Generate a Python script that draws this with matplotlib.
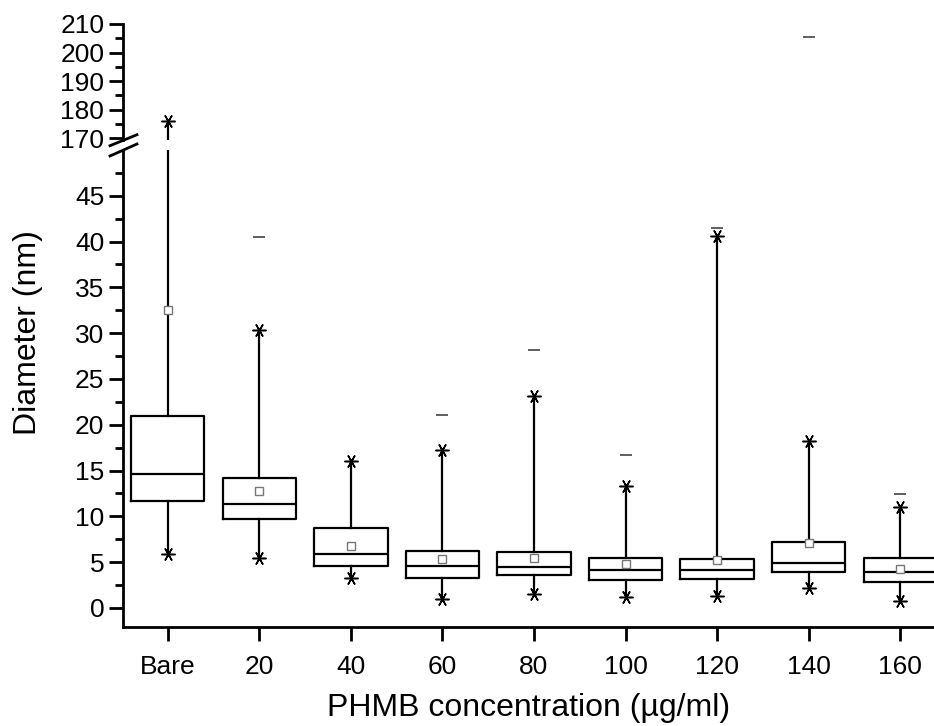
import numpy as np
import matplotlib
matplotlib.use("Agg")
import matplotlib.pyplot as plt
from matplotlib.lines import Line2D

plt.rcParams['font.family'] = ['Liberation Sans', 'DejaVu Sans']

# values (nm)
cats = ['Bare', '20', '40', '60', '80', '100', '120', '140', '160']
q1 = [11.7, 9.7, 4.55, 3.25, 3.6, 3.0, 3.2, 3.9, 2.8]
med = [14.6, 11.4, 5.9, 4.6, 4.5, 4.1, 4.1, 4.9, 3.9]
q3 = [21.0, 14.2, 8.7, 6.25, 6.15, 5.4, 5.3, 7.2, 5.5]
means = [32.5, 12.8, 6.8, 5.35, 5.45, 4.8, 5.2, 7.1, 4.3]
p1 = [5.9, 5.4, 3.25, 0.95, 1.5, 1.2, 1.35, 2.2, 0.8]
p99 = [176.0, 30.3, 16.0, 17.2, 23.1, 13.3, 40.6, 18.2, 11.0]
maxv = [np.nan, 40.5, np.nan, 21.1, 28.2, 16.7, 41.5, 205.3, 12.4]

W, H = 934, 726
fig = plt.figure(figsize=(W / 100, H / 100), dpi=100)

# axes placed in pixel units of the reference
ax_lo = fig.add_axes([123 / W, (H - 627) / H, (W - 123) / W, (627 - 150) / H])
ax_hi = fig.add_axes([123 / W, (H - 140) / H, (W - 123) / W, (140 - 24) / H])

pos = np.arange(len(cats))
stats = []
for i in range(len(cats)):
    stats.append(dict(med=med[i], q1=q1[i], q3=q3[i], whislo=p1[i],
                      whishi=p99[i], mean=means[i], fliers=[]))


def draw(ax):
    ax.bxp(stats, positions=pos, widths=0.8, showcaps=False, showmeans=True,
           showfliers=False,
           boxprops=dict(color='black', linewidth=1.6),
           medianprops=dict(color='black', linewidth=1.6),
           whiskerprops=dict(color='black', linewidth=1.6),
           meanprops=dict(marker='s', markerfacecolor='white',
                          markeredgecolor='#777777', markersize=6,
                          markeredgewidth=1.0))
    ax.plot(pos, p1, linestyle='none', marker=(6, 2, 90), color='black',
            markersize=10, markeredgewidth=1.1)
    ax.plot(pos, p99, linestyle='none', marker=(6, 2, 90), color='black',
            markersize=10, markeredgewidth=1.1)
    ax.plot(pos, maxv, linestyle='none', marker='_', color='#444444',
            markersize=8, markeredgewidth=1.2)
    ax.set_xlim(-0.49, 8.37)
    for s in ['top', 'right']:
        ax.spines[s].set_visible(False)
    ax.spines['left'].set_linewidth(2)
    ax.spines['bottom'].set_linewidth(2)
    ax.tick_params(axis='both', which='major', direction='out', length=10,
                   width=2, labelsize=19)
    ax.tick_params(axis='y', which='minor', direction='out', length=6,
                   width=2)


draw(ax_lo)
draw(ax_hi)

ax_lo.set_ylim(-2.08, 50.0)
ax_lo.set_yticks(np.arange(0, 46, 5))
ax_lo.set_yticks(np.arange(2.5, 48, 5), minor=True)
ax_lo.set_xticks(pos)
ax_lo.set_xticklabels(cats)
ax_lo.tick_params(axis='x', pad=10)
ax_lo.set_xlabel('PHMB concentration (\u00b5g/ml)', fontsize=23, labelpad=10)

ax_hi.set_ylim(169.3, 210)
ax_hi.set_yticks(np.arange(170, 211, 10))
ax_hi.set_yticks(np.arange(175, 210, 10), minor=True)
ax_hi.spines['bottom'].set_visible(False)
ax_hi.set_xticks([])

# y label spans both parts of the broken axis
fig.text(28.5 / W, (H - 333) / H, 'Diameter (nm)', fontsize=23,
         rotation=90, ha='center', va='center')

# axis break marks
for y0, y1 in [(145.7, 134.7), (156, 144)]:
    fig.add_artist(Line2D([110 / W, 137 / W], [(H - y0) / H, (H - y1) / H],
                          color='black', linewidth=2))

fig.savefig('out.png', dpi=100)
